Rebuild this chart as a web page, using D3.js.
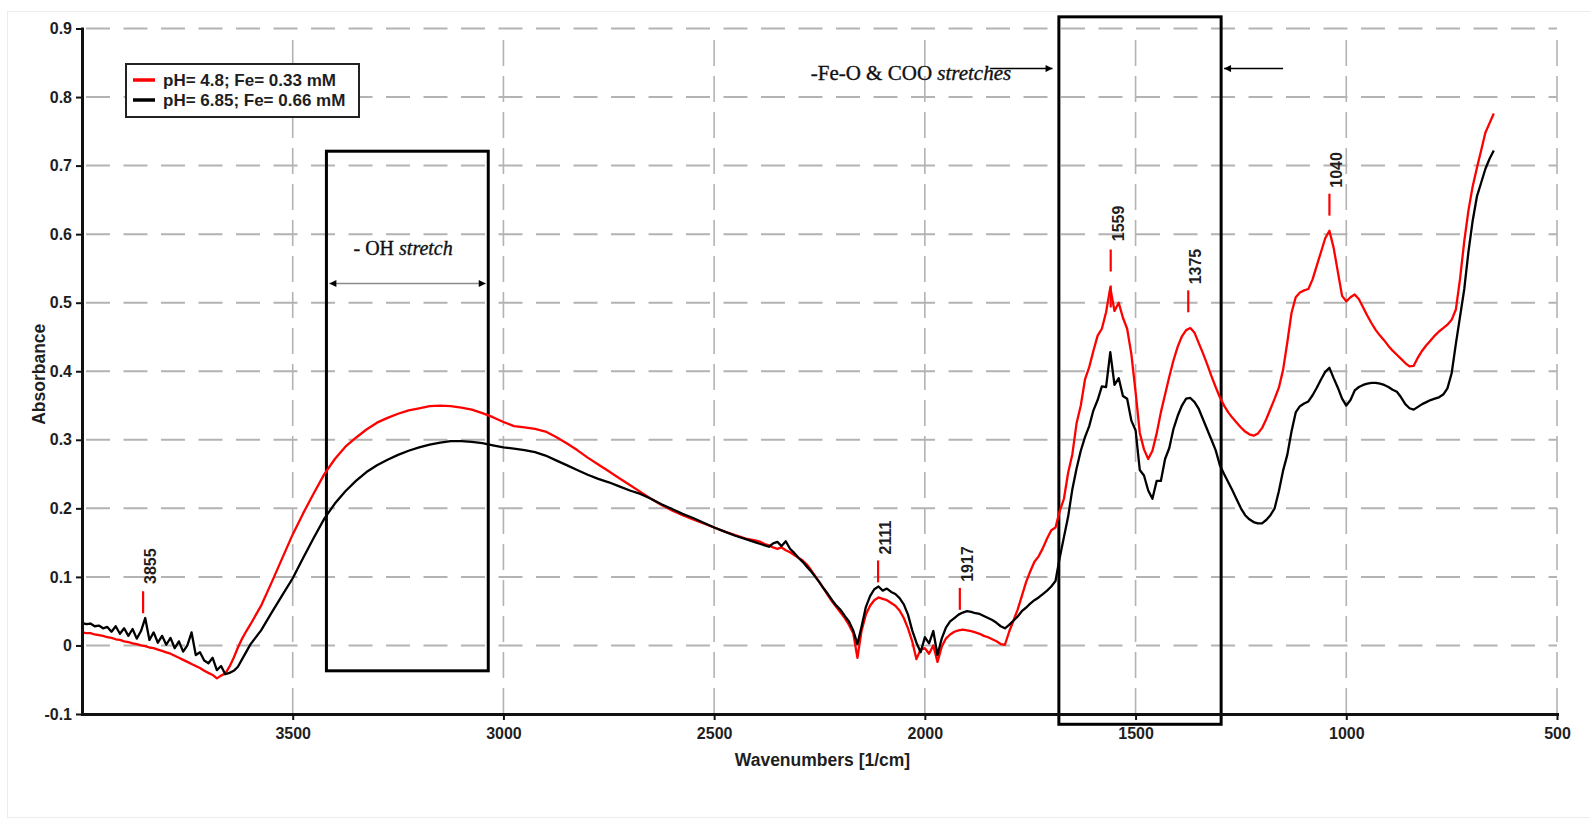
<!DOCTYPE html>
<html>
<head>
<meta charset="utf-8">
<script src="https://cdn.jsdelivr.net/npm/d3@7"></script>
<style>
  html, body { margin: 0; padding: 0; background: #fff; }
  svg { display: block; }
  .axis .tick text { font-family: "Liberation Sans", Arial, sans-serif; font-weight: bold; font-size: 16px; fill: #1e1e1e; }
</style>
</head>
<body>
<svg id="chart" width="1590" height="829"></svg>
<script>
// FTIR absorbance spectra (wavenumber in 1/cm, absorbance)
const wavenumbers = [
  4000, 3990, 3980, 3970, 3960, 3950, 3940, 3930, 3920, 3910,
  3900, 3890, 3880, 3870, 3860, 3850, 3840, 3830, 3820, 3810,
  3800, 3790, 3780, 3770, 3760, 3750, 3740, 3730, 3720, 3710,
  3700, 3690, 3680, 3670, 3660, 3650, 3640, 3630, 3620, 3610,
  3600,
  3575, 3550, 3525, 3500, 3475, 3450, 3425, 3400, 3375, 3350,
  3325, 3300, 3275, 3250, 3225, 3200, 3175, 3150, 3125, 3100,
  3075, 3050, 3025, 3000, 2975, 2950, 2925, 2900, 2875, 2850,
  2825, 2800, 2775, 2750, 2725, 2700, 2675, 2650, 2625, 2600,
  2575, 2550, 2525, 2500, 2475, 2450, 2425,
  2400, 2390, 2380, 2370, 2360, 2350, 2340, 2330, 2320, 2310,
  2300, 2290, 2280, 2270, 2260, 2250, 2240, 2230, 2220, 2210,
  2200, 2190, 2180, 2170, 2160, 2150, 2140, 2130, 2120, 2110,
  2100, 2090, 2080, 2070, 2060, 2050, 2040, 2030, 2020, 2010,
  2000, 1990, 1980, 1970, 1960, 1950, 1940, 1930, 1920, 1910,
  1900, 1890, 1880, 1870, 1860, 1850, 1840, 1830, 1820, 1810,
  1800, 1790, 1780, 1770, 1760, 1750, 1740, 1730, 1720, 1710,
  1700, 1690, 1680, 1670, 1660, 1650, 1640, 1630, 1620, 1610,
  1600, 1590, 1580, 1570, 1560, 1550, 1540, 1530, 1520, 1510,
  1500, 1490, 1480, 1470, 1460, 1450, 1440, 1430, 1420, 1410,
  1400, 1390, 1380, 1370, 1360, 1350, 1340, 1330, 1320, 1310,
  1300, 1290, 1280, 1270, 1260, 1250, 1240, 1230, 1220, 1210,
  1200, 1190, 1180, 1170, 1160, 1150, 1140, 1130, 1120, 1110,
  1100, 1090, 1080, 1070, 1060, 1050, 1040, 1030, 1020, 1010,
  1000, 990, 980, 970, 960, 950, 940, 930, 920, 910,
  900, 890, 880, 870, 860, 850, 840, 830, 820, 810,
  800, 790, 780, 770, 760, 750, 740, 730, 720, 710,
  700, 690, 680, 670, 660, 650
];

// pH 4.8, Fe 0.33 mM
const absorbancePh48 = [
  0.019, 0.018, 0.018, 0.016, 0.015, 0.014, 0.012, 0.011, 0.009, 0.008,
  0.006, 0.005, 0.003, 0.002, 0.000, -0.001, -0.003, -0.004, -0.006, -0.008,
  -0.010, -0.012, -0.015, -0.018, -0.021, -0.024, -0.027, -0.030, -0.033, -0.037,
  -0.040, -0.043, -0.048, -0.044, -0.041, -0.031, -0.018, -0.003, 0.010, 0.021,
  0.031,
  0.058, 0.092, 0.127, 0.162, 0.193, 0.222, 0.250, 0.272, 0.290, 0.303,
  0.315, 0.325, 0.332, 0.338, 0.343, 0.346, 0.349, 0.350, 0.349, 0.347,
  0.344, 0.339, 0.333, 0.326, 0.320, 0.318, 0.316, 0.312, 0.304, 0.295,
  0.285, 0.274, 0.264, 0.254, 0.244, 0.234, 0.224, 0.214, 0.205, 0.197,
  0.190, 0.184, 0.178, 0.172, 0.166, 0.161, 0.156,
  0.153, 0.151, 0.148, 0.146, 0.143, 0.141, 0.143, 0.139, 0.136, 0.132,
  0.128, 0.124, 0.118, 0.110, 0.101, 0.092, 0.083, 0.073, 0.064, 0.056,
  0.048, 0.040, 0.030, 0.018, -0.018, 0.022, 0.045, 0.058, 0.066, 0.070,
  0.068, 0.066, 0.062, 0.058, 0.051, 0.040, 0.025, 0.006, -0.020, -0.006,
  -0.004, -0.012, 0.000, -0.024, -0.002, 0.010, 0.016, 0.020, 0.022, 0.023,
  0.022, 0.021, 0.019, 0.017, 0.014, 0.012, 0.009, 0.006, 0.002, 0.001,
  0.020, 0.036, 0.052, 0.072, 0.092, 0.108, 0.122, 0.130, 0.142, 0.156,
  0.168, 0.172, 0.196, 0.214, 0.252, 0.279, 0.324, 0.350, 0.388, 0.406,
  0.430, 0.452, 0.462, 0.486, 0.522, 0.488, 0.500, 0.478, 0.462, 0.425,
  0.370, 0.310, 0.286, 0.272, 0.284, 0.309, 0.340, 0.366, 0.392, 0.416,
  0.436, 0.451, 0.460, 0.463, 0.456, 0.441, 0.426, 0.410, 0.393, 0.377,
  0.362, 0.350, 0.340, 0.332, 0.325, 0.318, 0.312, 0.308, 0.306, 0.309,
  0.317, 0.330, 0.345, 0.360, 0.376, 0.402, 0.442, 0.485, 0.508, 0.515,
  0.518, 0.520, 0.534, 0.554, 0.574, 0.594, 0.605, 0.580, 0.545, 0.510,
  0.502, 0.508, 0.512, 0.505, 0.493, 0.481, 0.470, 0.460, 0.452, 0.445,
  0.437, 0.430, 0.424, 0.418, 0.412, 0.407, 0.408, 0.420, 0.430, 0.438,
  0.445, 0.452, 0.458, 0.463, 0.468, 0.475, 0.490, 0.535, 0.590, 0.635,
  0.670, 0.697, 0.722, 0.748, 0.762, 0.776
];

// pH 6.85, Fe 0.66 mM
const absorbancePh685 = [
  0.033, 0.031, 0.032, 0.028, 0.029, 0.025, 0.027, 0.020, 0.028, 0.017,
  0.025, 0.014, 0.024, 0.010, 0.021, 0.040, 0.008, 0.019, 0.004, 0.014,
  0.001, 0.011, -0.004, 0.006, -0.009, 0.000, 0.019, -0.014, -0.010, -0.022,
  -0.026, -0.018, -0.036, -0.030, -0.042, -0.040, -0.037, -0.031, -0.020, -0.009,
  0.002,
  0.022, 0.048, 0.073, 0.098, 0.128, 0.157, 0.185, 0.207, 0.225, 0.240,
  0.253, 0.263, 0.271, 0.278, 0.284, 0.289, 0.293, 0.296, 0.298, 0.298,
  0.297, 0.295, 0.292, 0.289, 0.287, 0.285, 0.282, 0.277, 0.270, 0.263,
  0.256, 0.249, 0.243, 0.238, 0.232, 0.226, 0.221, 0.214, 0.206, 0.199,
  0.192, 0.186, 0.179, 0.172, 0.166, 0.160, 0.155,
  0.150, 0.148, 0.146, 0.144, 0.149, 0.151, 0.145, 0.152, 0.141, 0.135,
  0.128, 0.122, 0.115, 0.108, 0.100, 0.092, 0.083, 0.075, 0.066, 0.058,
  0.052, 0.043, 0.035, 0.022, 0.002, 0.028, 0.056, 0.072, 0.082, 0.086,
  0.080, 0.083, 0.078, 0.075, 0.069, 0.060, 0.045, 0.022, 0.004, -0.010,
  0.012, 0.003, 0.021, -0.014, 0.010, 0.026, 0.035, 0.040, 0.045, 0.048,
  0.050, 0.049, 0.047, 0.046, 0.043, 0.040, 0.037, 0.033, 0.028, 0.025,
  0.030, 0.036, 0.042, 0.050, 0.055, 0.061, 0.066, 0.070, 0.075, 0.080,
  0.086, 0.094, 0.128, 0.158, 0.188, 0.228, 0.258, 0.284, 0.304, 0.320,
  0.343, 0.358, 0.378, 0.377, 0.428, 0.380, 0.390, 0.364, 0.360, 0.328,
  0.314, 0.256, 0.248, 0.226, 0.214, 0.240, 0.240, 0.272, 0.288, 0.316,
  0.335, 0.350, 0.360, 0.361, 0.355, 0.345, 0.330, 0.315, 0.300, 0.285,
  0.263, 0.250, 0.238, 0.226, 0.213, 0.200, 0.190, 0.184, 0.180, 0.178,
  0.178, 0.183, 0.190, 0.200, 0.225, 0.255, 0.278, 0.312, 0.340, 0.349,
  0.353, 0.356, 0.365, 0.376, 0.388, 0.399, 0.405, 0.390, 0.376, 0.360,
  0.350, 0.358, 0.372, 0.377, 0.380, 0.382, 0.383, 0.383, 0.382, 0.380,
  0.377, 0.373, 0.370, 0.362, 0.352, 0.346, 0.344, 0.348, 0.352, 0.355,
  0.358, 0.360, 0.362, 0.366, 0.375, 0.397, 0.440, 0.480, 0.520, 0.575,
  0.620, 0.655, 0.675, 0.695, 0.710, 0.722
];

const seriesNames = ["pH= 4.8; Fe= 0.33 mM", "pH= 6.85; Fe= 0.66 mM"];
const seriesColors = ["#ff0000", "#000000"];

const xTickValues = [3500, 3000, 2500, 2000, 1500, 1000, 500];
const yTickValues = [-0.1, 0, 0.1, 0.2, 0.3, 0.4, 0.5, 0.6, 0.7, 0.8, 0.9];

// labelled bands: wavenumber and the absorbance span of the red marker dash
const peakWavenumbers = [3855, 2111, 1917, 1559, 1375, 1040];
const peakMarkLow  = [0.047, 0.092, 0.052, 0.493, 0.486, 0.627];
const peakMarkHigh = [0.081, 0.124, 0.084, 0.581, 0.518, 0.659];

// highlighted regions (wavenumber span, absorbance span)
const ohBand  = { from: 3420, to: 3036, low: -0.037, high: 0.721 };
const feoBand = { from: 1682, to: 1297, low: -0.115, high: 0.917 };

// ---------------------------------------------------------------
const svg = d3.select("#chart");
const width = 1590, height = 829;
const plot = { left: 82, right: 1557, top: 28.5, bottom: 714 };

const x = d3.scaleLinear().domain([4000, 500]).range([plot.left, plot.right]);
const y = d3.scaleLinear().domain([-0.1, 0.9]).range([plot.bottom, plot.top]);

svg.append("rect").attr("width", width).attr("height", height).attr("fill", "#fff");
// faint outer frame
svg.append("rect")
  .attr("x", 7.5).attr("y", 11.5).attr("width", 1590).attr("height", 806)
  .attr("fill", "none").attr("stroke", "#ececec").attr("stroke-width", 1);

const defs = svg.append("defs");
defs.append("marker")
  .attr("id", "head")
  .attr("viewBox", "0 0 10 10")
  .attr("refX", 10).attr("refY", 5)
  .attr("markerUnits", "userSpaceOnUse")
  .attr("markerWidth", 9).attr("markerHeight", 7)
  .attr("orient", "auto-start-reverse")
  .append("path").attr("d", "M0,0L10,5L0,10Z").attr("fill", "#000");

// grid
const grid = svg.append("g");
grid.selectAll(".hgrid")
  .data(yTickValues.filter(v => v >= 0))
  .join("line")
  .attr("x1", plot.left + 4).attr("x2", plot.right)
  .attr("y1", d => y(d)).attr("y2", d => y(d))
  .attr("stroke", "#b3b3b3").attr("stroke-width", 2)
  .attr("stroke-dasharray", "24,13.5");
grid.selectAll(".vgrid")
  .data(xTickValues)
  .join("line")
  .attr("x1", d => x(d)).attr("x2", d => x(d))
  .attr("y1", plot.bottom).attr("y2", y(0.885))
  .attr("stroke", "#b3b3b3").attr("stroke-width", 1.6)
  .attr("stroke-dasharray", "26,10");

// highlighted band boxes
[ohBand, feoBand].forEach(b => {
  svg.append("rect")
    .attr("x", x(b.from)).attr("y", y(b.high))
    .attr("width", x(b.to) - x(b.from)).attr("height", y(b.low) - y(b.high))
    .attr("fill", "none").attr("stroke", "#000").attr("stroke-width", 3);
});

// spectra
const series = [absorbancePh48, absorbancePh685];
const line = d3.line()
  .x((d, i) => x(wavenumbers[i]))
  .y(d => y(d))
  .curve(d3.curveLinear);
svg.append("g").selectAll("path")
  .data(series)
  .join("path")
  .attr("d", d => line(d))
  .attr("fill", "none")
  .attr("stroke", (d, i) => seriesColors[i])
  .attr("stroke-width", 2.3)
  .attr("stroke-linejoin", "round");

// axes
const gx = svg.append("g").attr("class", "axis")
  .attr("transform", `translate(0,${plot.bottom})`)
  .call(d3.axisBottom(x).tickValues(xTickValues).tickSize(6).tickSizeOuter(0).tickPadding(8)
    .tickFormat(v => String(v)));
const gy = svg.append("g").attr("class", "axis")
  .attr("transform", `translate(${plot.left},0)`)
  .call(d3.axisLeft(y).tickValues(yTickValues).tickSize(6).tickSizeOuter(0).tickPadding(4)
    .tickFormat(v => v === 0 ? "0" : v.toFixed(1)));
[gx, gy].forEach(g => {
  g.select(".domain").attr("stroke", "#111").attr("stroke-width", 3).attr("stroke-linecap", "square");
  g.selectAll(".tick line").attr("stroke", "#111").attr("stroke-width", 2);
});

// axis titles
svg.append("text")
  .attr("x", (plot.left + plot.right) / 2 + 3).attr("y", 766)
  .attr("text-anchor", "middle")
  .style("font-family", "'Liberation Sans', Arial, sans-serif")
  .style("font-weight", "bold").style("font-size", "17.5px").attr("fill", "#1e1e1e")
  .text("Wavenumbers [1/cm]");
svg.append("text")
  .attr("transform", `translate(45,${(plot.top + plot.bottom) / 2 + 3}) rotate(-90)`)
  .attr("text-anchor", "middle")
  .style("font-family", "'Liberation Sans', Arial, sans-serif")
  .style("font-weight", "bold").style("font-size", "17.5px").attr("fill", "#1e1e1e")
  .text("Absorbance");

// peak markers
const peaks = svg.append("g");
peakWavenumbers.forEach((wn, i) => {
  peaks.append("line")
    .attr("x1", x(wn)).attr("x2", x(wn))
    .attr("y1", y(peakMarkLow[i])).attr("y2", y(peakMarkHigh[i]))
    .attr("stroke", "#ff0000").attr("stroke-width", 2.2)
    .attr("stroke-dasharray", "22,14");
  peaks.append("text")
    .attr("transform", `translate(${x(wn) + 13},${y(peakMarkHigh[i]) - 6}) rotate(-90)`)
    .attr("text-anchor", "start")
    .style("font-family", "'Liberation Sans', Arial, sans-serif")
    .style("font-weight", "bold").style("font-size", "16px").attr("fill", "#1e1e1e")
    .text(String(wn));
});

// band annotations
const serif = "'Liberation Serif', 'Times New Roman', serif";
const ohText = svg.append("text")
  .attr("x", x(3238)).attr("y", y(0.569))
  .attr("text-anchor", "middle")
  .style("font-family", serif).style("font-size", "20px")
  .attr("fill", "#111").attr("stroke", "#111").attr("stroke-width", 0.35);
ohText.append("tspan").text("- OH ");
ohText.append("tspan").style("font-style", "italic").text("stretch");

svg.append("line")
  .attr("x1", x(3413)).attr("x2", x(3042))
  .attr("y1", y(0.528)).attr("y2", y(0.528))
  .attr("stroke", "#8a8a8a").attr("stroke-width", 1.3)
  .attr("marker-start", "url(#head)").attr("marker-end", "url(#head)");

const feoText = svg.append("text")
  .attr("x", x(2033)).attr("y", y(0.8255))
  .attr("text-anchor", "middle")
  .style("font-family", serif).style("font-size", "21px")
  .attr("fill", "#111").attr("stroke", "#111").attr("stroke-width", 0.35);
feoText.append("tspan").text("-Fe-O & COO ");
feoText.append("tspan").style("font-style", "italic").text("stretches");

svg.append("line")
  .attr("x1", x(1845)).attr("x2", x(1697))
  .attr("y1", y(0.8415)).attr("y2", y(0.8415))
  .attr("stroke", "#000").attr("stroke-width", 1.5)
  .attr("marker-end", "url(#head)");
svg.append("line")
  .attr("x1", x(1150)).attr("x2", x(1290))
  .attr("y1", y(0.8415)).attr("y2", y(0.8415))
  .attr("stroke", "#000").attr("stroke-width", 1.5)
  .attr("marker-end", "url(#head)");

// legend
const legend = svg.append("g").attr("transform", "translate(126,64)");
legend.append("rect")
  .attr("width", 233).attr("height", 53)
  .attr("fill", "#fff").attr("stroke", "#222").attr("stroke-width", 2);
seriesNames.forEach((name, i) => {
  const row = legend.append("g").attr("transform", `translate(0,${16 + i * 20})`);
  row.append("line").attr("x1", 7).attr("x2", 29)
    .attr("stroke", seriesColors[i]).attr("stroke-width", 3.5);
  row.append("text").attr("x", 37).attr("y", 6)
    .style("font-family", "'Liberation Sans', Arial, sans-serif")
    .style("font-weight", "bold").style("font-size", "17px").attr("fill", "#1e1e1e")
    .text(name);
});
</script>
</body>
</html>
